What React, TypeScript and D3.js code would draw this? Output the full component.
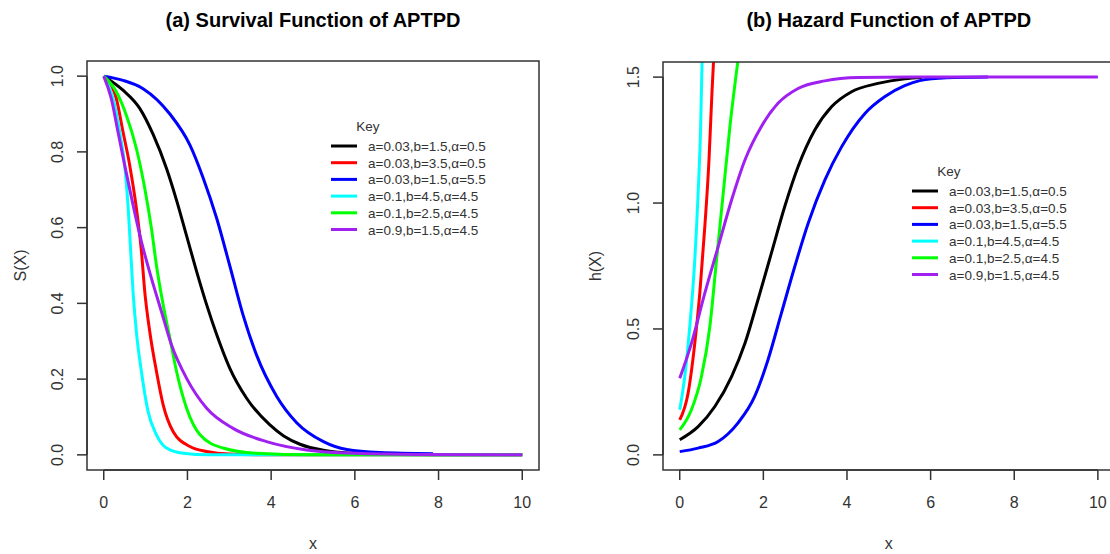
import React from "react";
import * as d3 from "d3";

const xTicks = [0, 2, 4, 6, 8, 10];
const survTicks = [0, 0.2, 0.4, 0.6, 0.8, 1.0];
const hazTicks = [0, 0.5, 1.0, 1.5];
const seriesLabels = [
  "a=0.03,b=1.5,\u03b1=0.5",
  "a=0.03,b=3.5,\u03b1=0.5",
  "a=0.03,b=1.5,\u03b1=5.5",
  "a=0.1,b=4.5,\u03b1=4.5",
  "a=0.1,b=2.5,\u03b1=4.5",
  "a=0.9,b=1.5,\u03b1=4.5",
];
const seriesColors = ["#000000", "#FF0000", "#0000FF", "#00FFFF", "#00FF00", "#A020F0"];

// Survival function S(x)
const survBlack: [number, number][] = [
  [0, 1], [0.46, 0.963], [0.86, 0.915], [1.18, 0.846], [1.5, 0.756], [1.74, 0.672], [1.98, 0.578],
  [2.22, 0.484], [2.46, 0.396], [2.7, 0.317], [3.01, 0.229], [3.41, 0.15], [3.97, 0.079],
  [4.3, 0.05], [4.69, 0.028], [5.25, 0.012], [5.6, 0.007], [6.2, 0.003], [7, 0.001], [8, 0], [10, 0],
];
const survRed: [number, number][] = [
  [0, 1], [0.3, 0.941], [0.46, 0.853], [0.62, 0.765], [0.78, 0.651], [0.9, 0.538], [0.98, 0.431],
  [1.1, 0.325], [1.26, 0.22], [1.42, 0.132], [1.66, 0.061], [2.06, 0.022], [2.46, 0.009],
  [3, 0.002], [4, 0], [10, 0],
];
const survBlue: [number, number][] = [
  [0, 1], [0.46, 0.989], [0.94, 0.967], [1.58, 0.9], [2.06, 0.818], [2.38, 0.73], [2.7, 0.624],
  [3.01, 0.5], [3.33, 0.369], [3.65, 0.264], [4.13, 0.155], [4.61, 0.085], [5.25, 0.035],
  [5.81, 0.014], [6.6, 0.006], [7.87, 0.003],
];
const survCyan: [number, number][] = [
  [0, 1], [0.22, 0.941], [0.38, 0.853], [0.5, 0.765], [0.58, 0.66], [0.64, 0.545], [0.7, 0.431],
  [0.78, 0.325], [0.9, 0.22], [1.06, 0.114], [1.26, 0.053], [1.5, 0.018], [1.9, 0.004],
  [2.5, 0], [10, 0],
];
const survGreen: [number, number][] = [
  [0, 1], [0.3, 0.959], [0.54, 0.897], [0.78, 0.809], [0.98, 0.704], [1.14, 0.598], [1.26, 0.5],
  [1.42, 0.396], [1.58, 0.308], [1.74, 0.22], [1.98, 0.123], [2.3, 0.053], [2.85, 0.018],
  [3.65, 0.004], [5, 0], [10, 0],
];
const survPurple: [number, number][] = [
  [0, 1], [0.18, 0.941], [0.34, 0.853], [0.5, 0.765], [0.7, 0.66], [0.9, 0.563], [1.14, 0.466],
  [1.38, 0.378], [1.62, 0.29], [1.98, 0.202], [2.46, 0.123], [3.09, 0.07], [3.89, 0.035],
  [4.85, 0.013], [6, 0.004], [7.5, 0.001], [10, 0],
];

// Hazard function h(x)
const hazBlack: [number, number][] = [
  [0, 0.06], [0.44, 0.112], [0.84, 0.192], [1.24, 0.311], [1.56, 0.443], [1.87, 0.615], [2.19, 0.8],
  [2.51, 0.985], [2.83, 1.144], [3.23, 1.29], [3.63, 1.382], [4.11, 1.442], [4.74, 1.475],
  [5.38, 1.493], [5.8, 1.498],
];
const hazRed: [number, number][] = [
  [0, 0.139], [0.2, 0.245], [0.36, 0.443], [0.48, 0.642], [0.6, 0.906], [0.7, 1.171], [0.77, 1.435],
  [0.82, 1.6],
];
const hazBlue: [number, number][] = [
  [0, 0.013], [0.44, 0.027], [0.92, 0.053], [1.39, 0.126], [1.79, 0.231], [2.11, 0.377], [2.43, 0.562],
  [2.75, 0.747], [3.07, 0.919], [3.47, 1.091], [3.87, 1.223], [4.43, 1.356], [4.9, 1.422],
  [5.38, 1.466], [5.74, 1.486], [6.38, 1.497], [7.37, 1.5],
];
const hazCyan: [number, number][] = [
  [0, 0.179], [0.12, 0.311], [0.24, 0.509], [0.36, 0.774], [0.44, 1.038], [0.5, 1.303], [0.54, 1.6],
];
const hazGreen: [number, number][] = [
  [0, 0.099], [0.28, 0.179], [0.52, 0.311], [0.72, 0.509], [0.88, 0.774], [1.04, 1.038], [1.2, 1.303],
  [1.42, 1.6],
];
const hazPurple: [number, number][] = [
  [0, 0.304], [0.28, 0.443], [0.6, 0.642], [0.92, 0.827], [1.24, 1.012], [1.56, 1.171], [1.95, 1.303],
  [2.35, 1.396], [2.83, 1.455], [3.47, 1.485], [4.27, 1.498], [5.5, 1.5], [10, 1.5],
];

const survSeries = [survBlack, survRed, survBlue, survCyan, survGreen, survPurple];
const hazSeries = [hazBlack, hazRed, hazBlue, hazCyan, hazGreen, hazPurple];

const FONT = "'Liberation Sans', Arial, Helvetica, sans-serif";
const AXIS = "#333333";

type PanelProps = {
  id: string;
  left: number;
  right: number;
  top: number;
  bottom: number;
  yDomain: [number, number];
  yTicks: number[];
  yFmt: (v: number) => string;
  series: [number, number][][];
  title: string;
  yLabel: string;
  yLabelX: number;
  yTickX: number;
  legendX: number;
  legendY: number;
};

function Panel(p: PanelProps) {
  const x = d3.scaleLinear().domain([-0.4, 10.4]).range([p.left, p.right]);
  const y = d3.scaleLinear().domain(p.yDomain).range([p.bottom, p.top]);
  const line = d3
    .line<[number, number]>()
    .x((d) => x(d[0]))
    .y((d) => y(d[1]))
    .curve(d3.curveMonotoneX);
  const y0 = y(p.yTicks[0]);
  const y1 = y(p.yTicks[p.yTicks.length - 1]);
  const xAxisY = p.bottom;
  const rowH = 16.7;
  return (
    <g>
      <defs>
        <clipPath id={p.id}>
          <rect x={p.left} y={p.top} width={p.right - p.left} height={p.bottom - p.top} />
        </clipPath>
      </defs>
      <text x={x(5)} y={27} textAnchor="middle" fontFamily={FONT} fontWeight="bold" fontSize={20} fill="#000">
        {p.title}
      </text>
      <g clipPath={`url(#${p.id})`}>
        {p.series.map((s, i) => (
          <path key={i} d={line(s) || ""} fill="none" stroke={seriesColors[i]} strokeWidth={3} />
        ))}
      </g>
      <rect x={p.left} y={p.top} width={p.right - p.left} height={p.bottom - p.top} fill="none" stroke={AXIS} strokeWidth={1.5} />
      {/* x axis */}
      <line x1={x(xTicks[0])} x2={x(xTicks[xTicks.length - 1])} y1={xAxisY} y2={xAxisY} stroke={AXIS} strokeWidth={1.5} />
      {xTicks.map((t) => (
        <g key={t}>
          <line x1={x(t)} x2={x(t)} y1={xAxisY} y2={xAxisY + 10} stroke={AXIS} strokeWidth={1.5} />
          <text x={x(t)} y={508} textAnchor="middle" fontFamily={FONT} fontSize={16} fill={AXIS}>
            {t}
          </text>
        </g>
      ))}
      <text x={x(5)} y={549} textAnchor="middle" fontFamily={FONT} fontSize={16} fill={AXIS}>
        x
      </text>
      {/* y axis */}
      <line x1={p.left} x2={p.left} y1={y0} y2={y1} stroke={AXIS} strokeWidth={1.5} />
      {p.yTicks.map((t) => (
        <g key={t}>
          <line x1={p.left - 10} x2={p.left} y1={y(t)} y2={y(t)} stroke={AXIS} strokeWidth={1.5} />
          <text
            transform={`translate(${p.yTickX},${y(t)}) rotate(-90)`}
            textAnchor="middle"
            fontFamily={FONT}
            fontSize={16}
            fill={AXIS}
          >
            {p.yFmt(t)}
          </text>
        </g>
      ))}
      <text
        transform={`translate(${p.yLabelX},${(p.top + p.bottom) / 2}) rotate(-90)`}
        textAnchor="middle"
        fontFamily={FONT}
        fontSize={16}
        fill={AXIS}
      >
        {p.yLabel}
      </text>
      {/* legend */}
      <text x={p.legendX + 37} y={p.legendY - 15} textAnchor="middle" fontFamily={FONT} fontSize={13.5} fill={AXIS}>
        Key
      </text>
      {seriesLabels.map((lab, i) => (
        <g key={lab}>
          <line
            x1={p.legendX}
            x2={p.legendX + 26}
            y1={p.legendY + i * rowH}
            y2={p.legendY + i * rowH}
            stroke={seriesColors[i]}
            strokeWidth={3}
          />
          <text x={p.legendX + 37} y={p.legendY + i * rowH + 5} fontFamily={FONT} fontSize={13.5} fill={AXIS}>
            {lab}
          </text>
        </g>
      ))}
    </g>
  );
}

export default function App() {
  return (
    <svg
      width={1110}
      height={554}
      style={{ position: "absolute", left: 0, top: 0, background: "#fff" }}
      xmlns="http://www.w3.org/2000/svg"
    >
      <rect x={0} y={0} width={1110} height={554} fill="#fff" />
      <Panel
        id="clipA"
        left={87}
        right={539}
        top={61}
        bottom={470}
        yDomain={[-0.04, 1.04]}
        yTicks={survTicks}
        yFmt={(v) => v.toFixed(1)}
        series={survSeries}
        title="(a) Survival Function of APTPD"
        yLabel="S(X)"
        yLabelX={26}
        yTickX={63}
        legendX={331}
        legendY={146}
      />
      <Panel
        id="clipB"
        left={663}
        right={1114.6}
        top={62}
        bottom={470}
        yDomain={[-0.06, 1.56]}
        yTicks={hazTicks}
        yFmt={(v) => v.toFixed(1)}
        series={hazSeries}
        title="(b) Hazard Function of APTPD"
        yLabel="h(X)"
        yLabelX={601}
        yTickX={639}
        legendX={912}
        legendY={191}
      />
    </svg>
  );
}
